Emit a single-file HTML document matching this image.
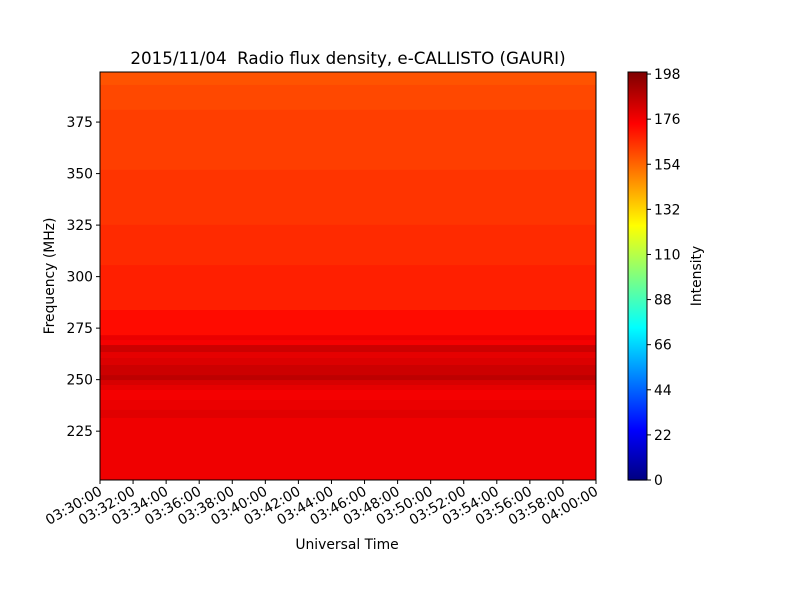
<!DOCTYPE html>
<html><head><meta charset="utf-8"><style>
body{margin:0;background:#fff}
svg text{font-family:"DejaVu Sans","Liberation Sans",sans-serif;fill:#000;white-space:pre}
</style></head><body>
<svg id="c" width="800" height="600" xmlns="http://www.w3.org/2000/svg">
<text x="348" y="64" font-size="16.7" text-anchor="middle" xml:space="preserve">2015/11/04  Radio flux density, e-CALLISTO (GAURI)</text>
<g id="heat"></g>
<g id="xaxis"></g>
<g id="yaxis"></g>
<g id="cbar"></g>
<rect x="100" y="72" width="496" height="408" fill="none" stroke="#000" stroke-width="1"/>
<text x="347" y="549" font-size="13.9" text-anchor="middle">Universal Time</text>
<text transform="translate(54,276) rotate(-90)" font-size="13.9" text-anchor="middle">Frequency (MHz)</text>
<text transform="translate(701,276) rotate(-90)" font-size="13.9" text-anchor="middle">Intensity</text>
</svg>
<script>
// band upper/lower frequency edges (MHz), from top to bottom
const bandTop = [399.3,393,380.9,351.8,325.1,305.6,283.8,271.6,269.2,266.8,263.4,260.5,257.1,252.2,249.8,247.4,245,240.1,235.3,231.4,220.7];
const bandBot = [393,380.9,351.8,325.1,305.6,283.8,271.6,269.2,266.8,263.4,260.5,257.1,252.2,249.8,247.4,245,240.1,235.3,231.4,220.7,201.3];
const bandVal = [158,160,162,164,166,168,172,178,176,184,179,181,184,187,182,179,176,178,180,177,177];
const timeLabels = ["03:30:00","03:32:00","03:34:00","03:36:00","03:38:00","03:40:00","03:42:00","03:44:00","03:46:00","03:48:00","03:50:00","03:52:00","03:54:00","03:56:00","03:58:00","04:00:00"];
const timeMinutes = [0,2,4,6,8,10,12,14,16,18,20,22,24,26,28,30];
const freqTicks = [225,250,275,300,325,350,375];
const cbarTicks = [0,22,44,66,88,110,132,154,176,198];

const NS="http://www.w3.org/2000/svg";
const X0=100,X1=596,Y0=72,Y1=480,FMIN=201.3,FMAX=399.3,TMAX=30,VMAX=199;
const xs=t=>X0+(t/TMAX)*(X1-X0);
const ys=f=>Y0+(FMAX-f)/(FMAX-FMIN)*(Y1-Y0);
const cy=v=>Y1-(v/VMAX)*(Y1-Y0);
function jet(x){const c=v=>Math.round(255*Math.max(0,Math.min(1,v)));
return `rgb(${c(1.5-Math.abs(4*x-3))},${c(1.5-Math.abs(4*x-2))},${c(1.5-Math.abs(4*x-1))})`;}
function mk(tag,attrs,parent){const e=document.createElementNS(NS,tag);for(const k in attrs)e.setAttribute(k,attrs[k]);parent.appendChild(e);return e;}
const heat=document.getElementById('heat');
for(let i=0;i<bandVal.length;i++){
 const r=mk('rect',{x:X0,y:ys(bandTop[i]),width:X1-X0,height:ys(bandBot[i])-ys(bandTop[i])+0.5,fill:jet(bandVal[i]/VMAX)},heat);
 
 
}
const xa=document.getElementById('xaxis');
timeMinutes.forEach((m,i)=>{
 const x=xs(m);
 mk('line',{x1:x,y1:Y1,x2:x,y2:Y1+4,stroke:'#000'},xa);
 const t=mk('text',{transform:`translate(${x+3},${Y1+14}) rotate(-30)`,'font-size':13.9,'text-anchor':'end'},xa);
 t.textContent=timeLabels[i];
 
 
});
const ya=document.getElementById('yaxis');
freqTicks.forEach(f=>{
 const y=ys(f);
 mk('line',{x1:X0-4,y1:y,x2:X0,y2:y,stroke:'#000'},ya);
 const t=mk('text',{x:X0-7,y:y+5,'font-size':13.9,'text-anchor':'end'},ya);
 t.textContent=f;
 
 
});
const cb=document.getElementById('cbar');
for(let i=0;i<204;i++){
 const v0=i*VMAX/204;
 mk('rect',{x:628,y:cy(v0+VMAX/204),width:19,height:(Y1-Y0)/204+0.6,fill:jet((v0+VMAX/408)/VMAX)},cb);
}
mk('rect',{x:628,y:Y0,width:19,height:Y1-Y0,fill:'none',stroke:'#000'},cb);
cbarTicks.forEach(v=>{
 const y=cy(v);
 mk('line',{x1:647,y1:y,x2:651,y2:y,stroke:'#000'},cb);
 const t=mk('text',{x:654,y:y+5,'font-size':13.9},cb);
 t.textContent=v;
 
 
});
</script>
</body></html>
